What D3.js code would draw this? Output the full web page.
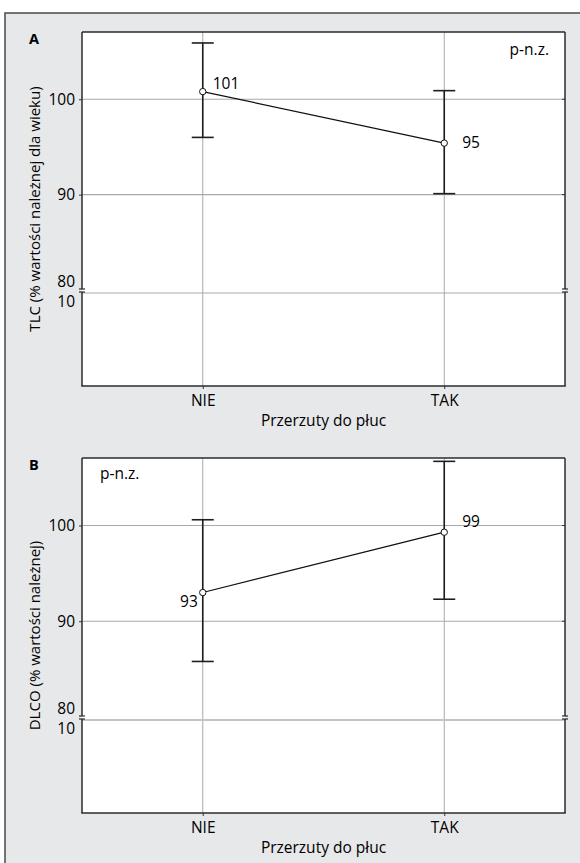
<!DOCTYPE html>
<html><head><meta charset="utf-8">
<script src="https://cdn.jsdelivr.net/npm/d3@7"></script>
<style>
html,body{margin:0;padding:0;background:#fff;}
svg text{font-family:"Open Sans","Noto Sans",sans-serif;fill:#000;}
</style></head>
<body>
<svg id="chart" width="580" height="863"></svg>
<script>
// ---- data ----
const categories = ["NIE", "TAK"];
const tlcMean = [100.8, 95.4];
const tlcLow = [96.0, 90.1];
const tlcHigh = [105.9, 100.9];
const tlcLabels = ["101", "95"];
const dlcoMean = [93.0, 99.3];
const dlcoLow = [85.8, 92.3];
const dlcoHigh = [100.6, 106.7];
const dlcoLabels = ["93", "99"];
const upperTicks = [80, 90, 100];
const lowerTicks = [10];
const upperDomain = [80, 107.05];
const lowerDomain = [0, 10];
const panelLetters = ["A", "B"];
const yTitles = ["TLC (% wartości należnej dla wieku)", "DLCO (% wartości należnej)"];
const xTitle = "Przerzuty do płuc";
const pText = "p-n.z.";

// ---- layout ----
const svg = d3.select("#chart");
const L = 82, R = 565;
const FONT = '"Open Sans","Noto Sans",sans-serif';
const layouts = [
  {top: 32, bottom: 386, pAnchor: "end", pX: R - L - 16, pY: 23,
   lab: [{dx: 10, dy: -3, a: "start"}, {dx: 18, dy: 5, a: "start"}]},
  {top: 458, bottom: 813, pAnchor: "start", pX: 18, pY: 21,
   lab: [{dx: -5, dy: 14, a: "end"}, {dx: 18, dy: -5, a: "start"}]}
];
const series = [
  {mean: tlcMean, low: tlcLow, high: tlcHigh, labels: tlcLabels},
  {mean: dlcoMean, low: dlcoLow, high: dlcoHigh, labels: dlcoLabels}
];

// outer frame
svg.append("rect").attr("x", 5).attr("y", 13).attr("width", 620).attr("height", 900)
  .attr("fill", "#e7e8ea").attr("stroke", "#4a4a4a").attr("stroke-width", 1.5);

const w = R - L;
const x = d3.scalePoint().domain(categories).range([0, w]).padding(0.5);

layouts.forEach((lay, i) => {
  const h = lay.bottom - lay.top;
  const yU = d3.scaleLinear().domain(upperDomain).range([h - 96, 0]);
  const yL = d3.scaleLinear().domain(lowerDomain).range([h, h - 93]);
  const s = series[i];
  const g = svg.append("g").attr("transform", `translate(${L},${lay.top})`);

  g.append("rect").attr("width", w).attr("height", h).attr("fill", "#fff");

  // grid
  const gridColor = "#a9a9a9";
  categories.forEach(c => {
    g.append("line").attr("x1", x(c)).attr("x2", x(c)).attr("y1", 0).attr("y2", h)
      .attr("stroke", gridColor).attr("stroke-width", 1);
  });
  upperTicks.filter(t => t > upperDomain[0]).forEach(t => {
    g.append("line").attr("x1", 0).attr("x2", w).attr("y1", yU(t)).attr("y2", yU(t))
      .attr("stroke", gridColor).attr("stroke-width", 1.2);
  });
  lowerTicks.forEach(t => {
    g.append("line").attr("x1", 0).attr("x2", w).attr("y1", yL(t)).attr("y2", yL(t))
      .attr("stroke", i === 0 ? gridColor : "#c4c4c4").attr("stroke-width", i === 0 ? 1.2 : 2);
  });

  // left axis (tick labels)
  const axU = g.append("g").call(d3.axisLeft(yU).tickValues(upperTicks).tickSize(3).tickPadding(4).tickFormat(d3.format("d")));
  const axL = g.append("g").call(d3.axisLeft(yL).tickValues(lowerTicks).tickSize(3).tickPadding(4).tickFormat(d3.format("d")));
  [axU, axL].forEach(ax => {
    ax.select(".domain").remove();
    ax.selectAll("line").attr("stroke", "#333");
    ax.selectAll("text").attr("font-size", 15.5).attr("fill", "#000").style("font-family", FONT);
  });
  axU.selectAll(".tick").filter(d => d === 80).select("line").remove();
  axU.selectAll(".tick").filter(d => d === 80).select("text").attr("dy", "-0.22em");
  axL.selectAll(".tick").select("line").remove();
  axL.selectAll(".tick text").attr("dy", "0.86em");

  // right ticks
  upperTicks.filter(t => t > upperDomain[0]).forEach(t => {
    g.append("line").attr("x1", w - 3).attr("x2", w).attr("y1", yU(t)).attr("y2", yU(t))
      .attr("stroke", "#333");
  });

  // x axis
  const axB = g.append("g").attr("transform", `translate(0,${h})`)
    .call(d3.axisBottom(x).tickSize(3).tickSizeOuter(0).tickPadding(6));
  axB.select(".domain").remove();
  axB.selectAll("line").attr("stroke", "#333");
  axB.selectAll("text").attr("font-size", 15.5).attr("fill", "#000").style("font-family", FONT);

  // frame with breaks
  const dark = "#2b2b2b";
  const upEnd = yU(upperDomain[0]) - 1, loStart = yL(lowerTicks[0]) - 1;
  [0, w].forEach(xx => {
    g.append("line").attr("x1", xx).attr("x2", xx).attr("y1", 0).attr("y2", upEnd)
      .attr("stroke", dark).attr("stroke-width", 1.5);
    g.append("line").attr("x1", xx).attr("x2", xx).attr("y1", loStart).attr("y2", h)
      .attr("stroke", dark).attr("stroke-width", 1.5);
    [upEnd, loStart].forEach(yy => {
      g.append("line").attr("x1", xx - 3).attr("x2", xx + 3).attr("y1", yy).attr("y2", yy)
        .attr("stroke", dark).attr("stroke-width", 1.2);
    });
  });
  g.append("line").attr("x1", 0).attr("x2", w).attr("y1", 0).attr("y2", 0)
    .attr("stroke", dark).attr("stroke-width", 1.5);
  g.append("line").attr("x1", -0.75).attr("x2", w + 0.75).attr("y1", h).attr("y2", h)
    .attr("stroke", dark).attr("stroke-width", 1.5);

  // error bars
  const cap = 11;
  categories.forEach((c, j) => {
    const cx = x(c);
    g.append("line").attr("x1", cx).attr("x2", cx).attr("y1", yU(s.low[j])).attr("y2", yU(s.high[j]))
      .attr("stroke", "#1e1e1e").attr("stroke-width", 1.6);
    [s.low[j], s.high[j]].forEach(v => {
      g.append("line").attr("x1", cx - cap).attr("x2", cx + cap).attr("y1", yU(v)).attr("y2", yU(v))
        .attr("stroke", "#1e1e1e").attr("stroke-width", 1.6);
    });
  });

  // mean line
  const line = d3.line().x((d, j) => x(categories[j])).y(d => yU(d));
  g.append("path").attr("d", line(s.mean)).attr("fill", "none")
    .attr("stroke", "#111").attr("stroke-width", 1.2);
  g.selectAll(".pt").data(s.mean).enter().append("circle")
    .attr("cx", (d, j) => x(categories[j])).attr("cy", d => yU(d)).attr("r", 3.2)
    .attr("fill", "#fff").attr("stroke", "#111").attr("stroke-width", 1);

  // value labels
  s.mean.forEach((v, j) => {
    const o = lay.lab[j];
    g.append("text").attr("x", x(categories[j]) + o.dx).attr("y", yU(v) + o.dy)
      .attr("text-anchor", o.a).attr("font-size", 15.5).text(s.labels[j]);
  });

  // p text
  g.append("text").attr("x", lay.pX).attr("y", lay.pY).attr("text-anchor", lay.pAnchor)
    .attr("font-size", 15.5).text(pText);

  // panel letter
  svg.append("text").attr("x", 29).attr("y", lay.top + 11.5).attr("font-size", 14.5)
    .attr("font-weight", "bold").text(panelLetters[i]);

  // axis titles
  g.append("text").attr("x", w / 2).attr("y", h + 40).attr("text-anchor", "middle")
    .attr("font-size", 15.5).text(xTitle);
  g.append("text").attr("transform", `translate(${40 - L},${h / 2}) rotate(-90)`)
    .attr("text-anchor", "middle").attr("font-size", 15).text(yTitles[i]);
});
</script>
</body></html>
